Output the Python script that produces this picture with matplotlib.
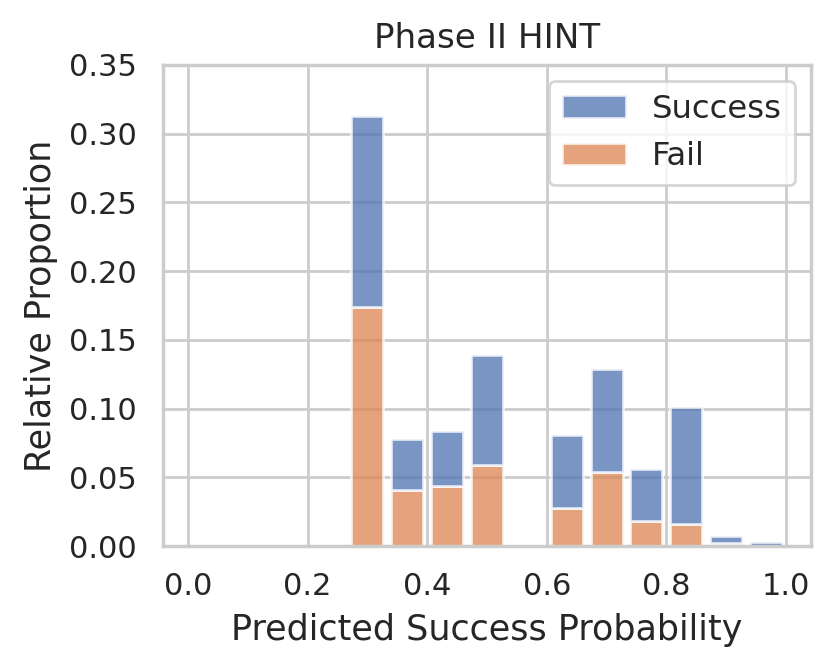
import matplotlib
matplotlib.use("Agg")
import matplotlib.pyplot as plt
import seaborn as sns
import numpy as np

sns.set_theme(style="whitegrid", context="notebook")
plt.rcParams['font.family'] = ['DejaVu Sans']

# 15 bins from 0 to 1, proportions (common norm)
bin_edges = np.linspace(0, 1, 16)
fail = [0, 0, 0, 0, 0.174, 0.041, 0.044, 0.059, 0, 0.028, 0.054, 0.018, 0.016, 0.002, 0.0]
success = [0, 0, 0, 0, 0.139, 0.037, 0.040, 0.080, 0, 0.053, 0.075, 0.038, 0.085, 0.005, 0.003]
labels = ['Success', 'Fail']

pal = sns.color_palette("deep")
centers = (bin_edges[:-1] + bin_edges[1:]) / 2
width = (bin_edges[1] - bin_edges[0]) * 0.8

fig = plt.figure(figsize=(4.155, 3.35), dpi=200)
ax = fig.add_axes([0.196, 0.185, 0.78, 0.718])

fail = np.array(fail)
success = np.array(success)
keep_f = fail > 0
keep_s = success > 0
ax.bar(centers[keep_f], fail[keep_f], width=width, color=pal[1], alpha=0.75,
       edgecolor='white', linewidth=1, label=labels[1])
ax.bar(centers[keep_s], success[keep_s], bottom=fail[keep_s], width=width, color=pal[0],
       alpha=0.75, edgecolor='white', linewidth=1, label=labels[0])

ax.set_xlim(-0.042, 1.042)
ax.set_ylim(0, 0.35)
ax.set_xticks([0.0, 0.2, 0.4, 0.6, 0.8, 1.0])
ax.set_xlabel('Predicted Success Probability', fontsize=12.6)
ax.set_ylabel('Relative Proportion', fontsize=12.6)
ax.set_title('Phase II HINT', fontsize=12.3)

h, l = ax.get_legend_handles_labels()
ax.legend(h[::-1], l[::-1], loc='upper right', fontsize=11.6)

fig.savefig('out.png', dpi=200)
